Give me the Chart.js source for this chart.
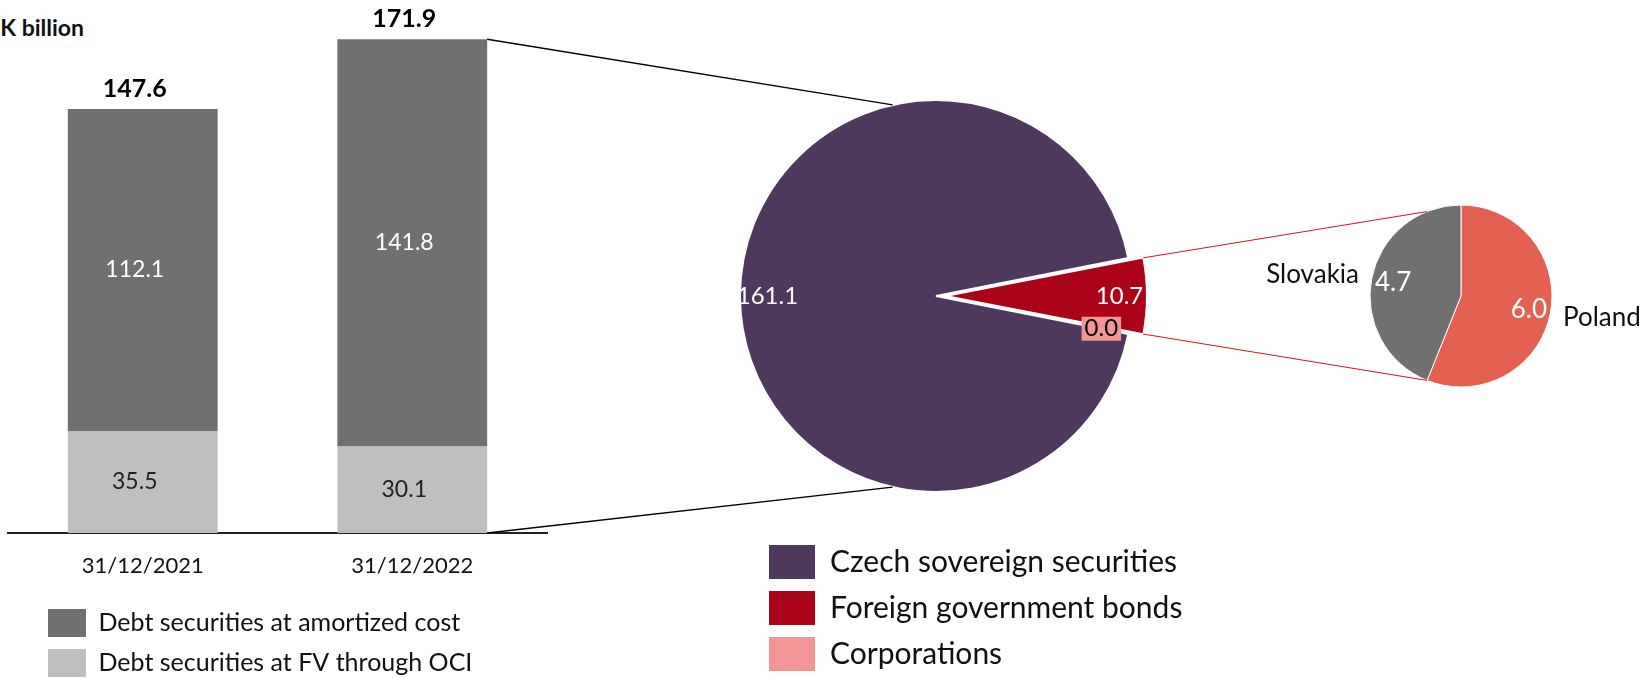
<!DOCTYPE html>
<html>
<head>
<meta charset="utf-8">
<script src="https://cdn.jsdelivr.net/npm/chart.js@4.4.1/dist/chart.umd.min.js"></script>
<style>
    html, body { margin: 0; padding: 0; background: #fff; }
    body { width: 1643px; height: 678px; overflow: hidden; position: relative; font-family: Lato, sans-serif; }
    canvas { position: absolute; top: 0; }
    #bars      { left: 0; }
    #main-pie  { left: 640px; }
    #small-pie { left: 1260px; }
    #links     { left: 0; pointer-events: none; }
    .unit {
        position: absolute; left: -116px; top: 13px; width: 200px;
        text-align: right; font: bold 23px Lato, sans-serif; color: #111;
    }
</style>
</head>
<body>
<div class="unit">CZK billion</div>
<canvas id="bars" width="560" height="687"></canvas>
<canvas id="main-pie" width="592" height="681"></canvas>
<canvas id="small-pie" width="402" height="592"></canvas>
<canvas id="links" width="1643" height="678"></canvas>

<script>
// ── DATA ─────────────────────────────────────────────

var dates         = ['31/12/2021', '31/12/2022'];
var amortizedCost = [112.1, 141.8];
var fvThroughOci  = [35.5, 30.1];

var holderNames   = ['Czech sovereign securities', 'Foreign government bonds', 'Corporations'];
var holderValues  = [161.1, 10.7, 0.0];

var countryNames  = ['Poland', 'Slovakia'];
var countryValues = [6.0, 4.7];

// ── COLOURS ──────────────────────────────────────────

var DARK_GREY  = '#707070';
var LIGHT_GREY = '#bfbfbf';
var PURPLE     = '#4e385d';
var RED        = '#ab0318';
var PINK       = '#f49595';
var SALMON     = '#e46051';
var TEXT       = '#111';

Chart.defaults.font.family = 'Lato, sans-serif';
Chart.defaults.color = TEXT;

// how far Chart.js actually moves an arc for its "offset" option
function arcShift(arc) {
    var off = arc.options.offset || 0;
    var circ = arc.endAngle - arc.startAngle;
    return off / 4 * (2 - Math.sin(Math.min(Math.PI, circ)));
}

// ── BAR LABELS ───────────────────────────────────────

var barLabels = {
    id: 'barLabels',
    afterDatasetsDraw: function(chart) {
        var ctx = chart.ctx;
        var sets = chart.data.datasets;
        ctx.save();
        ctx.textAlign = 'center';
        ctx.textBaseline = 'middle';

        // value in the middle of each segment
        ctx.font = '23px Lato';
        for (var i = 0; i < sets.length; i++) {
            var meta = chart.getDatasetMeta(i);
            for (var j = 0; j < meta.data.length; j++) {
                var bar = meta.data[j];
                ctx.fillStyle = sets[i].labelColor;
                ctx.fillText(sets[i].data[j].toFixed(1), bar.x - 8, (bar.y + bar.base) / 2);
            }
        }

        // total above each stack
        ctx.font = 'bold 25px Lato';
        ctx.fillStyle = '#000';
        var top = chart.getDatasetMeta(sets.length - 1);
        for (var j = 0; j < top.data.length; j++) {
            var total = 0;
            for (var i = 0; i < sets.length; i++) total += sets[i].data[j];
            ctx.fillText(total.toFixed(1), top.data[j].x - 8, top.data[j].y - 20);
        }
        ctx.restore();
    }
};

// legend sits further right than the plot area
var shiftLegend = {
    id: 'shiftLegend',
    afterLayout: function(chart, args, opts) {
        if (chart.legend) {
            chart.legend.left += opts.dx;
            chart.legend.right += opts.dx;
        }
    }
};

// ── BAR CHART ────────────────────────────────────────

var barChart = new Chart(document.getElementById('bars'), {
    type: 'bar',
    data: {
        labels: dates,
        datasets: [
            { label: 'Debt securities at FV through OCI', data: fvThroughOci, backgroundColor: LIGHT_GREY, labelColor: '#222' },
            { label: 'Debt securities at amortized cost', data: amortizedCost, backgroundColor: DARK_GREY, labelColor: '#fff' }
        ]
    },
    options: {
        responsive: false,
        animation: false,
        events: [],
        layout: { padding: { left: 8, right: 13, top: 16, bottom: 0 } },
        datasets: { bar: { categoryPercentage: 1, barPercentage: 0.556 } },
        scales: {
            x: {
                stacked: true,
                grid: { display: false },
                border: { display: true, color: '#222', width: 2 },
                ticks: { padding: 12, color: TEXT, font: { size: 22 } },
                afterFit: function(scale) { scale.height = 64; }
            },
            y: { stacked: true, display: false, min: 0, max: 180 }
        },
        plugins: {
            tooltip: { enabled: false },
            shiftLegend: { dx: 28 },
            legend: {
                position: 'bottom',
                align: 'start',
                reverse: true,
                labels: { boxWidth: 38, boxHeight: 28, padding: 12, color: TEXT, font: { size: 25 } }
            }
        }
    },
    plugins: [barLabels, shiftLegend]
});

// ── PIE LABELS ───────────────────────────────────────

function pieLabels(inner, valueSize, nameSize) {
    return {
        id: 'pieLabels',
        afterDatasetsDraw: function(chart) {
            var ctx = chart.ctx;
            var ds = chart.data.datasets[0];
            var meta = chart.getDatasetMeta(0);
            ctx.save();
            ctx.textBaseline = 'middle';
            for (var i = 0; i < meta.data.length; i++) {
                var arc = meta.data[i];
                var mid = (arc.startAngle + arc.endAngle) / 2;
                var off = arcShift(arc);
                var r = arc.outerRadius;
                var text = ds.data[i].toFixed(1);

                // value inside the slice
                ctx.font = valueSize + 'px Lato';
                var x = arc.x + Math.cos(mid) * (off + r * inner);
                var y = arc.y + Math.sin(mid) * (off + r * inner);
                if (arc.endAngle - arc.startAngle < 0.001) {
                    var w = ctx.measureText(text).width + 6;
                    ctx.fillStyle = ds.backgroundColor[i];
                    ctx.fillRect(x - w / 2, y - 12, w, 24);
                }
                ctx.fillStyle = ds.labelColors[i];
                ctx.textAlign = 'center';
                ctx.fillText(text, x, y);

                // category name outside the pie
                if (nameSize) {
                    var right = Math.cos(mid) > 0;
                    ctx.font = nameSize + 'px Lato';
                    ctx.fillStyle = TEXT;
                    ctx.textAlign = right ? 'left' : 'right';
                    ctx.fillText(chart.data.labels[i],
                        arc.x + (right ? r + 11 : -r - 11),
                        arc.y + Math.sin(mid) * r * 1.25);
                }
            }
            ctx.restore();
        }
    };
}

// ── MAIN PIE ─────────────────────────────────────────

var mainPie = new Chart(document.getElementById('main-pie'), {
    type: 'pie',
    data: {
        labels: holderNames,
        datasets: [{
            data: holderValues,
            backgroundColor: [PURPLE, RED, PINK],
            borderColor: '#fff',
            borderWidth: 2,
            offset: [0, 37, 0],
            labelColors: ['#fff', '#fff', '#000']
        }]
    },
    options: {
        responsive: false,
        animation: false,
        events: [],
        rotation: 101.2,
        radius: 196,
        layout: { padding: { left: 0, right: 0, top: 59, bottom: 0 } },
        plugins: {
            tooltip: { enabled: false },
            shiftLegend: { dx: 117 },
            legend: {
                position: 'bottom',
                align: 'start',
                labels: {
                    boxWidth: 46, boxHeight: 34, padding: 12, color: TEXT, font: { size: 30 },
                    generateLabels: function(chart) {
                        var items = Chart.overrides.doughnut.plugins.legend.labels.generateLabels(chart);
                        for (var i = 0; i < items.length; i++) items[i].lineWidth = 0;
                        return items;
                    }
                }
            }
        }
    },
    plugins: [pieLabels(0.86, 24, 0), shiftLegend]
});

// ── SMALL PIE ────────────────────────────────────────

var smallPie = new Chart(document.getElementById('small-pie'), {
    type: 'pie',
    data: {
        labels: countryNames,
        datasets: [{
            data: countryValues,
            backgroundColor: [SALMON, DARK_GREY],
            borderColor: '#fff',
            borderWidth: 1,
            labelColors: ['#fff', '#fff']
        }]
    },
    options: {
        responsive: false,
        animation: false,
        events: [],
        rotation: 0,
        radius: 91,
        plugins: {
            tooltip: { enabled: false },
            legend: { display: false }
        }
    },
    plugins: [pieLabels(0.76, 26, 26)]
});

// ── CONNECTOR LINES ──────────────────────────────────

function pagePoint(chart, x, y) {
    return { x: chart.canvas.offsetLeft + x, y: chart.canvas.offsetTop + y };
}

function onCircle(chart, arc, angle, shift, shiftAngle) {
    return pagePoint(chart,
        arc.x + Math.cos(shiftAngle) * shift + Math.cos(angle) * arc.outerRadius,
        arc.y + Math.sin(shiftAngle) * shift + Math.sin(angle) * arc.outerRadius);
}

function drawLinks() {
    var ctx = document.getElementById('links').getContext('2d');

    // bar total -> main pie
    var last   = dates.length - 1;
    var upper  = barChart.getDatasetMeta(1).data[last];
    var lower  = barChart.getDatasetMeta(0).data[last];
    var pieArc = mainPie.getDatasetMeta(0).data[0];
    var tilt   = 12.8 * Math.PI / 180;

    var a1 = pagePoint(barChart, upper.x + upper.width / 2, upper.y);
    var a2 = pagePoint(barChart, lower.x + lower.width / 2, lower.base);
    var b1 = onCircle(mainPie, pieArc, -Math.PI / 2 - tilt, 0, 0);
    var b2 = onCircle(mainPie, pieArc,  Math.PI / 2 + tilt, 0, 0);

    ctx.strokeStyle = '#000';
    ctx.lineWidth = 1.3;
    ctx.beginPath();
    ctx.moveTo(a1.x, a1.y); ctx.lineTo(b1.x, b1.y);
    ctx.moveTo(a2.x, a2.y); ctx.lineTo(b2.x, b2.y);
    ctx.stroke();

    // foreign bonds slice -> country pie
    var red  = mainPie.getDatasetMeta(0).data[1];
    var mid  = (red.startAngle + red.endAngle) / 2;
    var off  = arcShift(red);
    var c1 = onCircle(mainPie, red, red.startAngle, off, mid);
    var c2 = onCircle(mainPie, red, red.endAngle, off, mid);

    var first = smallPie.getDatasetMeta(0).data[0];
    var d1 = onCircle(smallPie, first, -first.endAngle, 0, 0);
    var d2 = onCircle(smallPie, first,  first.endAngle, 0, 0);

    ctx.strokeStyle = '#d11';
    ctx.lineWidth = 1;
    ctx.beginPath();
    ctx.moveTo(c1.x, c1.y); ctx.lineTo(d1.x, d1.y);
    ctx.moveTo(c2.x, c2.y); ctx.lineTo(d2.x, d2.y);
    ctx.stroke();
}

drawLinks();
</script>
</body>
</html>
